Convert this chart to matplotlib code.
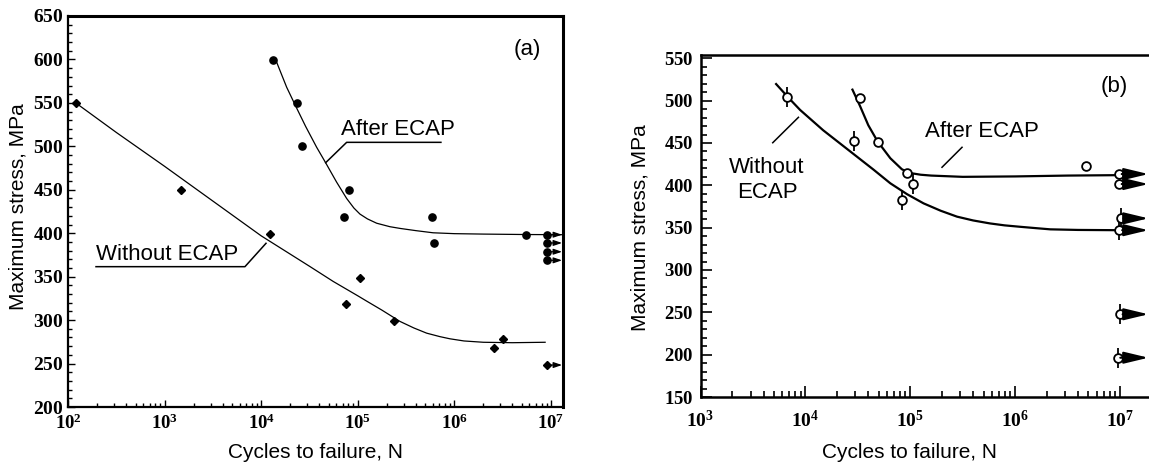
import numpy as np
import matplotlib
matplotlib.use('Agg')
import matplotlib.pyplot as plt
from matplotlib.ticker import FixedLocator, MultipleLocator, FuncFormatter, NullFormatter

plt.rcParams['font.family'] = ['Liberation Sans', 'DejaVu Sans']
plt.rcParams['mathtext.fontset'] = 'custom'
plt.rcParams['mathtext.rm'] = 'Liberation Serif:bold'
plt.rcParams['mathtext.it'] = 'Liberation Serif:bold'
plt.rcParams['mathtext.bf'] = 'Liberation Serif:bold'
plt.rcParams['mathtext.default'] = 'bf'

# ---------------- Panel (a) data ----------------
a_after_N = [1.32e4, 2.37e4, 2.66e4, 7.2e4, 8.1e4, 5.9e5, 6.2e5, 5.5e6]
a_after_S = [599, 549.5, 500, 419, 449.4, 419, 389, 398.3]
a_after_runout_N = [9.0e6, 9.0e6, 9.0e6, 9.0e6]
a_after_runout_S = [398.3, 388.8, 378.7, 368.8]
a_without_N = [120, 1.48e3, 1.23e4, 7.6e4, 1.05e5, 2.4e5, 2.6e6, 3.2e6]
a_without_S = [550, 449.7, 399, 319, 348.8, 299.3, 268.3, 278.6]
a_without_runout_N = [9.1e6]
a_without_runout_S = [248.3]
a_after_curve_logN = [4.156, 4.264, 4.35, 4.46, 4.574, 4.668, 4.78, 4.885, 4.96, 5.023, 5.1,
                      5.196, 5.333, 5.44, 5.6, 5.78, 6.0, 6.3, 6.74, 7.125]
a_after_curve_S = [598, 568, 548, 523, 499, 481, 459, 440, 429, 422, 416.5,
                   411.5, 407.5, 405.5, 403, 400.5, 399.5, 399, 398.5, 398.3]
a_without_curve_logN = [2.08, 2.5, 3.0, 3.5, 4.0, 4.5, 4.746, 5.0, 5.09, 5.25, 5.437, 5.58,
                        5.713, 5.85, 5.954, 6.1, 6.3, 6.6, 6.94]
a_without_curve_S = [550, 516, 477, 437, 397, 362, 344.5, 328, 322, 311.5, 298.5, 291,
                     285, 281, 278.5, 276, 274.5, 274, 274.5]

# ---------------- Panel (b) data ----------------
b_after_N = [3.31e4, 4.88e4, 9.3e4, 4.75e6]
b_after_S = [502.7, 451.5, 414.2, 422.8]
b_after_runout_N = [9.8e6, 9.8e6]
b_after_runout_S = [413.3, 401.5]
b_without_N = [6.65e3, 2.94e4, 8.4e4, 1.07e5]
b_without_S = [504.6, 452.3, 382.6, 401.2]
b_without_runout_N = [1.02e7, 9.9e6, 1.0e7, 9.5e6]
b_without_runout_S = [361, 347, 247.7, 196.4]
b_after_curve_logN = [4.449, 4.52, 4.60, 4.688, 4.81, 4.92, 4.96, 5.0, 5.1, 5.2, 5.5,
                      6.0, 6.5, 6.99]
b_after_curve_S = [513, 494, 471, 452, 432, 419, 416.5, 414.5, 412.5, 411.5, 410,
                   410.5, 411.5, 412]
b_without_curve_logN = [3.721, 3.85, 3.95, 4.17, 4.49, 4.65, 4.81, 4.97, 5.127, 5.29, 5.446,
                        5.6, 5.76, 5.9, 6.05, 6.2, 6.336, 6.6, 6.97]
b_without_curve_S = [519.6, 502, 489, 465, 434, 418.5, 402.4, 389.5, 378.7, 370, 363,
                     358.5, 355, 352.7, 351, 349.4, 348, 347.3, 347]

W, H = 1149, 467
fig = plt.figure(figsize=(W / 100, H / 100), dpi=100)

def px_rect(l, r, t, b):
    return [l / W, 1 - b / H, (r - l) / W, (b - t) / H]

log_fmt = FuncFormatter(lambda v, p: r'$\mathbf{10^{%d}}$' % int(round(np.log10(v))))
lin_fmt = FuncFormatter(lambda v, p: r'$\mathbf{%d}$' % int(round(v)))

# ================= Panel (a) =================
ax = fig.add_axes(px_rect(68, 563, 16, 407))
ax.set_xscale('log')
ax.set_xlim(1e2, 10 ** 7.125)
ax.set_ylim(200, 650)
ax.plot(10 ** np.array(a_without_curve_logN), a_without_curve_S, color='black', lw=0.9)
ax.plot(10 ** np.array(a_after_curve_logN), a_after_curve_S, color='black', lw=0.9)
ax.plot(a_after_N, a_after_S, 'o', color='black', ms=5.2, ls='none')
ax.plot(a_after_runout_N, a_after_runout_S, 'o', color='black', ms=5.2, ls='none')
ax.plot(a_without_N, a_without_S, 'D', color='black', ms=3.6, ls='none')
ax.plot(a_without_runout_N, a_without_runout_S, 'D', color='black', ms=3.6, ls='none')
for n, s in list(zip(a_after_runout_N, a_after_runout_S)) + list(zip(a_without_runout_N, a_without_runout_S)):
    ax.annotate('', xy=(10 ** 7.115, s), xytext=(n * 1.05, s),
                arrowprops=dict(arrowstyle='-|>,head_length=0.5,head_width=0.17',
                                mutation_scale=10, lw=0.9, color='black',
                                shrinkA=0, shrinkB=0))
ax.xaxis.set_major_locator(FixedLocator([1e2, 1e3, 1e4, 1e5, 1e6, 1e7]))
ax.xaxis.set_minor_locator(FixedLocator([m * 10 ** e for e in range(2, 7) for m in range(2, 10)]))
ax.xaxis.set_major_formatter(log_fmt)
ax.xaxis.set_minor_formatter(NullFormatter())
ax.yaxis.set_major_locator(MultipleLocator(50))
ax.yaxis.set_minor_locator(MultipleLocator(10))
ax.yaxis.set_major_formatter(lin_fmt)
ax.tick_params(which='both', direction='in', width=1.0, colors='black')
ax.tick_params(which='major', length=5)
ax.tick_params(which='minor', length=3)
ax.tick_params(axis='x', which='major', pad=5, labelsize=13.5)
ax.tick_params(axis='y', which='major', pad=3, labelsize=14)
for sp in ['left', 'bottom']:
    ax.spines[sp].set_linewidth(1.6)
for sp in ['top', 'right']:
    ax.spines[sp].set_linewidth(2.2)
# annotations (a)
ax.text(10 ** 2.29, 369.2, 'Without ECAP', fontsize=16, ha='left', va='baseline')
ax.plot([10 ** 2.29, 10 ** 3.832, 10 ** 4.05], [361.5, 361.5, 388.4], color='black', lw=1.1)
ax.text(10 ** 4.826, 513, 'After ECAP', fontsize=16, ha='left', va='baseline')
ax.plot([10 ** 5.861, 10 ** 4.885, 10 ** 4.668], [504.6, 504.6, 481.2], color='black', lw=1.1)
ax.text(10 ** 6.751, 611, '(a)', fontsize=16, ha='center', va='center')

fig.text(18.5 / W, 1 - 207 / H, 'Maximum stress, MPa', rotation=90, fontsize=15,
         ha='center', va='center')
fig.text(315 / W, 1 - 453 / H, 'Cycles to failure, N', fontsize=15, ha='center', va='center')

# ================= Panel (b) =================
bx = fig.add_axes(px_rect(700.5, 1149, 55, 397))
bx.set_xscale('log')
bx.set_xlim(1e3, 10 ** 7.277)
bx.set_ylim(150, 553.9)
bx.plot(10 ** np.array(b_without_curve_logN), b_without_curve_S, color='black', lw=1.6)
bx.plot(10 ** np.array(b_after_curve_logN), b_after_curve_S, color='black', lw=1.6)
for n, s in list(zip(b_after_runout_N, b_after_runout_S)) + list(zip(b_without_runout_N, b_without_runout_S)):
    bx.annotate('', xy=(10 ** 7.272, s), xytext=(n * 1.06, s),
                arrowprops=dict(arrowstyle='-|>,head_length=1.5,head_width=0.36',
                                mutation_scale=10, lw=1.5, color='black',
                                shrinkA=0, shrinkB=0))
bx.plot(b_without_N + b_without_runout_N, b_without_S + b_without_runout_S, '|',
        color='black', ms=15, mew=1.3, ls='none')
bx.plot(b_without_N + b_without_runout_N, b_without_S + b_without_runout_S, 'o',
        mfc='white', mec='black', ms=6.3, mew=1.3, ls='none')
bx.plot(b_after_N + b_after_runout_N, b_after_S + b_after_runout_S, 'o',
        mfc='white', mec='black', ms=6.3, mew=1.3, ls='none')
bx.xaxis.set_major_locator(FixedLocator([1e3, 1e4, 1e5, 1e6, 1e7]))
bx.xaxis.set_minor_locator(FixedLocator([m * 10 ** e for e in range(3, 7) for m in range(2, 10)]))
bx.xaxis.set_major_formatter(log_fmt)
bx.xaxis.set_minor_formatter(NullFormatter())
bx.yaxis.set_major_locator(MultipleLocator(50))
bx.yaxis.set_minor_locator(MultipleLocator(10))
bx.yaxis.set_major_formatter(lin_fmt)
bx.tick_params(which='both', direction='in', width=1.2, colors='black')
bx.tick_params(which='major', length=8)
bx.tick_params(which='minor', length=4)
bx.tick_params(axis='x', which='major', pad=9, labelsize=14)
bx.tick_params(axis='y', which='major', pad=5, labelsize=13.5)
bx.spines['right'].set_visible(False)
for sp in ['left', 'bottom', 'top']:
    bx.spines[sp].set_linewidth(1.8)
# annotations (b)
bx.text(10 ** 3.635, 414.9, 'Without', fontsize=16, ha='center', va='baseline')
bx.text(10 ** 3.635, 385.4, 'ECAP', fontsize=16, ha='center', va='baseline')
bx.plot([10 ** 3.689, 10 ** 3.934], [450.3, 480.3], color='black', lw=1.1)
bx.text(10 ** 5.143, 456.7, 'After ECAP', fontsize=16, ha='left', va='baseline')
bx.plot([10 ** 5.303, 10 ** 5.494], [421.3, 444.9], color='black', lw=1.1)
bx.text(10 ** 6.947, 516.4, '(b)', fontsize=16, ha='center', va='center')

fig.text(640 / W, 1 - 228 / H, 'Maximum stress, MPa', rotation=90, fontsize=15,
         ha='center', va='center')
fig.text(910 / W, 1 - 453 / H, 'Cycles to failure, N', fontsize=15, ha='center', va='center')

fig.savefig('out.png', dpi=100)
